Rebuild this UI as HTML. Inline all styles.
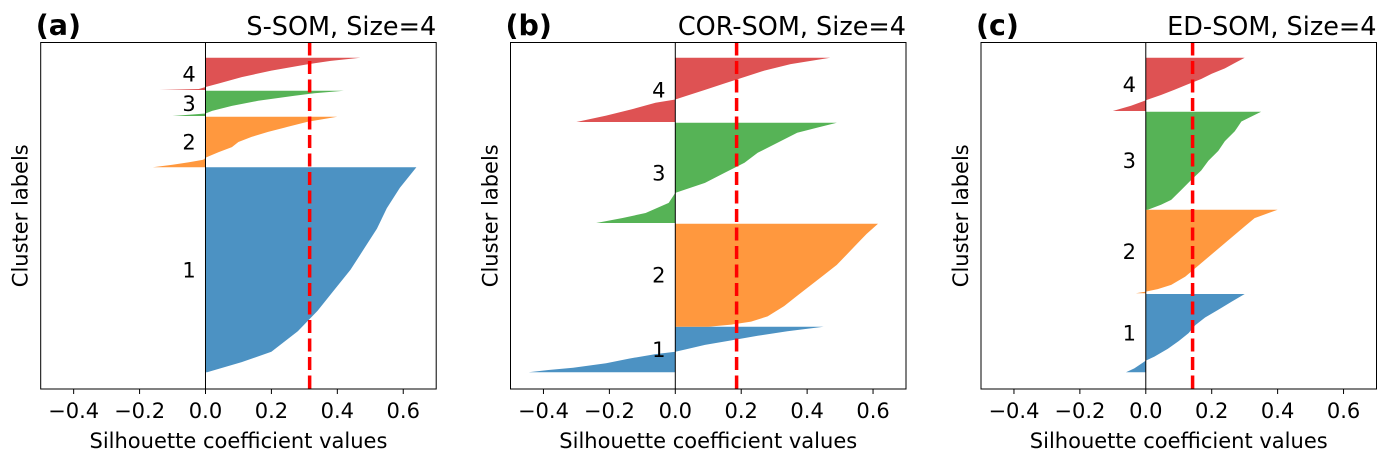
<!DOCTYPE html>
<html><head><meta charset="utf-8"><style>
body{margin:0;background:#fff;}
svg text{font-family:"DejaVu Sans","Liberation Sans",sans-serif;fill:#000;}
</style></head><body>
<svg id="chart" width="1391" height="460" viewBox="0 0 1391 460" xmlns="http://www.w3.org/2000/svg"></svg>
<script>
// ---- data ----
const panelLetters = ["(a)", "(b)", "(c)"];
const panelTitles = ["S-SOM, Size=4", "COR-SOM, Size=4", "ED-SOM, Size=4"];
const xTicks = [-0.4, -0.2, 0.0, 0.2, 0.4, 0.6];
const xTickLabels = ["\u22120.4", "\u22120.2", "0.0", "0.2", "0.4", "0.6"];
const clusterNames = ["1", "2", "3", "4"];
const avgScores = [0.316, 0.186, 0.142];
// cluster y-extents (row positions, bottom -> top) per panel
const clusterStartA = [16.7, 221.7, 273, 299];
const clusterEndA = [221.7, 272.3, 298.3, 331.3];
const clusterStartB = [16.7, 62.3, 166, 267];
const clusterEndB = [62.3, 165.3, 266.3, 331.3];
const clusterStartC = [16.7, 95.7, 179.3, 278];
const clusterEndC = [95, 179.3, 277.3, 331.3];
// sorted silhouette profiles: fraction within cluster, value
const fracA1 = [0,0.05,0.1,0.2,0.3,0.4,0.5,0.6,0.7,0.8,0.9,1];
const valA1 = [0.005,0.11,0.2,0.28,0.34,0.39,0.44,0.48,0.52,0.55,0.59,0.64];
const fracA2 = [0,0.05,0.1,0.15,0.2,0.3,0.4,0.5,0.6,0.7,0.8,0.9,1];
const valA2 = [-0.16,-0.1,-0.05,-0.007,0.003,0.04,0.08,0.1,0.14,0.19,0.25,0.31,0.4];
const fracA3 = [0,0.05,0.1,0.2,0.4,0.6,0.8,0.9,1];
const valA3 = [-0.1,-0.05,0,0.02,0.08,0.16,0.27,0.33,0.42];
const fracA4 = [0,0.03,0.1,0.2,0.4,0.6,0.8,0.9,1];
const valA4 = [-0.14,-0.02,0.003,0.04,0.11,0.2,0.31,0.38,0.47];
const fracB1 = [0,0.05,0.1,0.2,0.3,0.4,0.45,0.5,0.6,0.7,0.8,0.9,1];
const valB1 = [-0.445,-0.385,-0.31,-0.21,-0.14,-0.06,0,0.03,0.09,0.17,0.25,0.34,0.45];
const fracB2 = [0,0.02,0.05,0.1,0.2,0.3,0.4,0.5,0.6,0.7,0.8,0.9,1];
const valB2 = [0.1,0.17,0.23,0.28,0.33,0.37,0.41,0.45,0.49,0.52,0.55,0.58,0.615];
const fracB3 = [0,0.05,0.1,0.2,0.3,0.4,0.5,0.6,0.7,0.8,0.9,1];
const valB3 = [-0.24,-0.16,-0.09,-0.02,0,0.09,0.15,0.21,0.25,0.31,0.37,0.49];
const fracB4 = [0,0.1,0.2,0.3,0.35,0.4,0.5,0.6,0.7,0.8,0.9,1];
const valB4 = [-0.3,-0.21,-0.13,-0.06,0,0.03,0.09,0.15,0.21,0.27,0.35,0.47];
const fracC1 = [0,0.05,0.15,0.2,0.3,0.4,0.5,0.6,0.7,0.8,0.9,1];
const valC1 = [-0.06,-0.035,0,0.026,0.067,0.1,0.13,0.15,0.18,0.22,0.26,0.3];
const fracC2 = [0,0.02,0.05,0.1,0.2,0.3,0.4,0.5,0.6,0.7,0.8,0.9,1];
const valC2 = [-0.03,0,0.036,0.077,0.12,0.15,0.18,0.21,0.24,0.27,0.3,0.33,0.4];
const fracC3 = [0,0.05,0.1,0.2,0.3,0.4,0.5,0.6,0.7,0.8,0.9,1];
const valC3 = [0.006,0.046,0.077,0.107,0.137,0.168,0.19,0.22,0.24,0.27,0.29,0.35];
const fracC4 = [0,0.1,0.2,0.3,0.4,0.5,0.6,0.7,0.8,0.9,1];
const valC4 = [-0.1,-0.045,0,0.046,0.087,0.127,0.168,0.2,0.24,0.27,0.3];

const panels = [
  {left:40.7, starts:clusterStartA, ends:clusterEndA, fr:[fracA1,fracA2,fracA3,fracA4], vals:[valA1,valA2,valA3,valA4]},
  {left:510.5, starts:clusterStartB, ends:clusterEndB, fr:[fracB1,fracB2,fracB3,fracB4], vals:[valB1,valB2,valB3,valB4]},
  {left:981, starts:clusterStartC, ends:clusterEndC, fr:[fracC1,fracC2,fracC3,fracC4], vals:[valC1,valC2,valC3,valC4]}
];
const colors = ["#4c92c3","#ff983e","#56b356","#de5253"];
const NS = "http://www.w3.org/2000/svg";
const svg = document.getElementById("chart");
const W = 395.5, TOP = 42.5, BOT = 389, XMIN = -0.5, XMAX = 0.7, YMAX = 346.5;
function mk(tag, attrs, parent){const e=document.createElementNS(NS,tag);for(const k in attrs)e.setAttribute(k,attrs[k]);(parent||svg).appendChild(e);return e;}

panels.forEach((p, pi) => {
  const xs = v => p.left + (v - XMIN) / (XMAX - XMIN) * W;
  const ys = r => BOT - r / YMAX * (BOT - TOP);
  const g = mk("g", {});
  
  
  for (let c = 0; c < 4; c++) {
    const s = p.starts[c], e = p.ends[c], fr = p.fr[c], vv = p.vals[c];
    let pts = [[xs(0), ys(s)]];
    for (let i = 0; i < fr.length; i++) pts.push([xs(vv[i]), ys(s + fr[i] * (e - s))]);
    pts.push([xs(0), ys(e)]);
    const poly = mk("polygon", {points: pts.map(q => q[0].toFixed(1)+","+q[1].toFixed(1)).join(" "), fill: colors[c]}, g);
    
    
    const t = mk("text", {x: xs(-0.05), y: ys((s + e) / 2) + 7.5, "font-size": 21, "text-anchor": "middle"}, g);
    t.textContent = clusterNames[c];
    
    
  }
  const zl = mk("line", {x1: xs(0), x2: xs(0), y1: TOP, y2: BOT, stroke: "#000", "stroke-width": 1}, g);
  
  
  const av = mk("line", {x1: xs(avgScores[pi]), x2: xs(avgScores[pi]), y1: TOP, y2: BOT, stroke: "#ff0000", "stroke-width": 3.5, "stroke-dasharray": "13,5.5"}, g);
  
  
  const fr = mk("rect", {x: p.left, y: TOP, width: W, height: BOT - TOP, fill: "none", stroke: "#000", "stroke-width": 1}, g);
  
  
  xTicks.forEach((v, i) => {
    const tk = mk("line", {x1: xs(v), x2: xs(v), y1: BOT, y2: BOT + 5, stroke: "#000", "stroke-width": 1}, g);
    
    
    const tl = mk("text", {x: xs(v), y: 418, "font-size": 21, "text-anchor": "middle"}, g);
    tl.textContent = xTickLabels[i];
    
    
  });
  const xl = mk("text", {x: p.left + W / 2, y: 448, "font-size": 21, "text-anchor": "middle"}, g);
  xl.textContent = "Silhouette coefficient values";
  
  
  const yl = mk("text", {x: 0, y: 0, "font-size": 21, "text-anchor": "middle", transform: "translate(" + (p.left - 13) + "," + ((TOP + BOT) / 2) + ") rotate(-90)"}, g);
  yl.textContent = "Cluster labels";
  
  
  const tt = mk("text", {x: p.left + W, y: 35, "font-size": 25.5, "text-anchor": "end"}, g);
  tt.textContent = panelTitles[pi];
  
  
  const lt = mk("text", {x: p.left - 5, y: 35, "font-size": 28.5, "font-weight": "bold"}, g);
  lt.textContent = panelLetters[pi];
  
  
});
</script>
</body></html>
